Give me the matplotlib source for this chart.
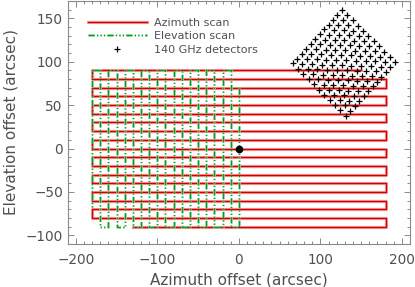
import matplotlib

matplotlib.use("Agg")

import matplotlib.pyplot as plt
import matplotlib.patheffects as pe
from matplotlib.ticker import MultipleLocator

# -- data -------------------------------------------------------------------
# azimuth scan: horizontal legs, alternating direction, top to bottom
AZ_ROWS = [90, 80, 70, 60, 50, 40, 30, 20, 10, 0, -10, -20, -30, -40, -50, -60, -70, -80, -90]
AZ_TURN = [-180, 180]
AZ_START = 150
AZ_END = -130

# elevation scan: vertical legs, alternating direction, right to left
EL_COLS = [0, -10, -20, -30, -40, -50, -60, -70, -80, -90, -100, -110, -120, -130, -140, -150, -160, -170, -180]
EL_TURN = [-90, 90]
EL_START = 70
EL_END = -70

# 140 GHz detector positions (arcsec)
DET_X = [
    66, 71.5, 77, 82.5, 88, 93.5, 99, 104.5, 110, 115.5, 121, 126.5,
    72.5, 78, 83.5, 89, 94.5, 100, 105.5, 111, 116.5, 122, 127.5, 133,
    79, 84.5, 90, 95.5, 101, 106.5, 112, 117.5, 123, 128.5, 134, 139.5,
    85.5, 91, 96.5, 102, 107.5, 113, 118.5, 124, 129.5, 135, 140.5, 146,
    92, 97.5, 103, 108.5, 114, 119.5, 125, 130.5, 136, 141.5, 147, 152.5,
    98.5, 104, 109.5, 115, 120.5, 126, 131.5, 137, 142.5, 148, 153.5, 159,
    105, 110.5, 116, 121.5, 127, 132.5, 138, 143.5, 149, 154.5, 160, 165.5,
    111.5, 117, 122.5, 128, 133.5, 139, 144.5, 150, 155.5, 161, 166.5, 172,
    118, 123.5, 129, 134.5, 140, 145.5, 151, 156.5, 162, 167.5, 173, 178.5,
    124.5, 130, 135.5, 141, 146.5, 152, 157.5, 163, 168.5, 174, 179.5, 185,
    131, 136.5, 142, 147.5, 153, 158.5, 164, 169.5, 175, 180.5, 186, 191.5,
]
DET_Y = [
    98, 103.6, 109.2, 114.8, 120.4, 126, 131.6, 137.2, 142.8, 148.4, 154, 159.6,
    92, 97.6, 103.2, 108.8, 114.4, 120, 125.6, 131.2, 136.8, 142.4, 148, 153.6,
    86, 91.6, 97.2, 102.8, 108.4, 114, 119.6, 125.2, 130.8, 136.4, 142, 147.6,
    80, 85.6, 91.2, 96.8, 102.4, 108, 113.6, 119.2, 124.8, 130.4, 136, 141.6,
    74, 79.6, 85.2, 90.8, 96.4, 102, 107.6, 113.2, 118.8, 124.4, 130, 135.6,
    68, 73.6, 79.2, 84.8, 90.4, 96, 101.6, 107.2, 112.8, 118.4, 124, 129.6,
    62, 67.6, 73.2, 78.8, 84.4, 90, 95.6, 101.2, 106.8, 112.4, 118, 123.6,
    56, 61.6, 67.2, 72.8, 78.4, 84, 89.6, 95.2, 100.8, 106.4, 112, 117.6,
    50, 55.6, 61.2, 66.8, 72.4, 78, 83.6, 89.2, 94.8, 100.4, 106, 111.6,
    44, 49.6, 55.2, 60.8, 66.4, 72, 77.6, 83.2, 88.8, 94.4, 100, 105.6,
    38, 43.6, 49.2, 54.8, 60.4, 66, 71.6, 77.2, 82.8, 88.4, 94, 99.6,
]

# -- style ------------------------------------------------------------------
INK = "#505050"
FRAME = "#8a8a8a"
RED = "#d40000"
RED_HALO = "#f2a8a8"
GREEN = "#00a020"
GREEN_HALO = "#a8dcb0"

plt.rcParams["font.family"] = "DejaVu Sans"


def serpentine(legs, turn, start, end):
    """Alternating legs between the two turn values, first leg going to turn[0]."""
    a, b = [], []
    for k, leg in enumerate(legs):
        lo, hi = (turn[1], turn[0]) if k % 2 == 0 else (turn[0], turn[1])
        if k == 0:
            lo = start
        if k == len(legs) - 1:
            hi = end
        a += [lo, hi]
        b += [leg, leg]
    return a, b


az_x, az_y = serpentine(AZ_ROWS, AZ_TURN, AZ_START, AZ_END)
el_y, el_x = serpentine(EL_COLS, EL_TURN, EL_START, EL_END)

fig = plt.figure(figsize=(4.15, 2.87), dpi=100)
ax = fig.add_axes([0.163, 0.150, 0.825, 0.8465])

(az_line,) = ax.plot(
    az_x, az_y, color=RED, linewidth=1.0, label="Azimuth scan", zorder=2,
    path_effects=[pe.Stroke(linewidth=2.3, foreground=RED_HALO), pe.Normal()],
)
(el_line,) = ax.plot(
    el_x, el_y, color=GREEN, linewidth=1.0, label="Elevation scan", zorder=3,
    dashes=(4.5, 1.6, 0.9, 1.6, 0.9, 1.6, 0.9, 1.6),
    path_effects=[pe.Stroke(linewidth=1.9, foreground=GREEN_HALO), pe.Normal()],
)
(det,) = ax.plot(
    DET_X, DET_Y, linestyle="none", marker="+", markersize=4.6,
    markeredgewidth=0.9, color="black", label="140 GHz detectors", zorder=4,
)
ax.plot([0], [0], marker="o", markersize=4.5, color="black", linestyle="none", zorder=5)

ax.set_xlim(-210, 210)
ax.set_ylim(-110, 170)
ax.xaxis.set_major_locator(MultipleLocator(100))
ax.xaxis.set_minor_locator(MultipleLocator(10))
ax.yaxis.set_major_locator(MultipleLocator(50))
ax.yaxis.set_minor_locator(MultipleLocator(10))

for spine in ax.spines.values():
    spine.set_color(FRAME)
    spine.set_linewidth(0.8)
ax.tick_params(which="both", direction="in", top=True, right=True, color=FRAME, width=0.7)
ax.tick_params(which="major", length=4.5, labelsize=9.8, labelcolor=INK)
ax.tick_params(which="minor", length=2.2)
ax.tick_params(axis="x", pad=6.5)
ax.tick_params(axis="y", pad=3.5)

ax.set_xlabel("Azimuth offset (arcsec)", fontsize=11, color=INK, labelpad=4)
ax.set_ylabel("Elevation offset (arcsec)", fontsize=11, color=INK, labelpad=5)

ax.legend(
    handles=[az_line, el_line, det],
    loc="upper left",
    bbox_to_anchor=(0.059, 0.93),
    frameon=False,
    fontsize=8,
    handlelength=5.3,
    handletextpad=0.65,
    labelspacing=0.3,
    borderpad=0,
    borderaxespad=0,
    numpoints=1,
    labelcolor=INK,
)

fig.savefig("out.png", dpi=100)
